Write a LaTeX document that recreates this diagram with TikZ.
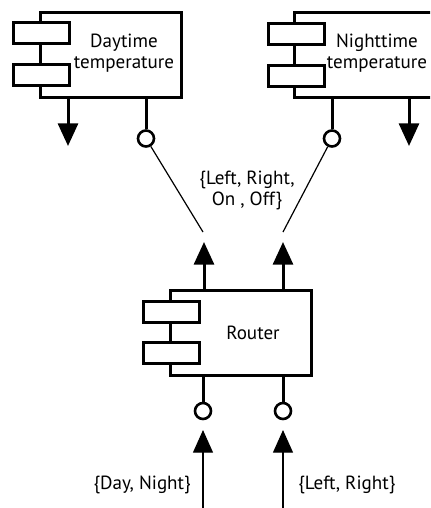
\documentclass[tikz,border=0pt]{standalone}
\usepackage{fontspec}
\setmainfont{PT Sans}
\usetikzlibrary{arrows.meta,positioning}
\newdimen\pxu
\pxu=0.75pt

\begin{document}
\begin{tikzpicture}[
    x=0.75pt, y=-0.75pt,
    comp/.style={draw, line width=3\pxu, minimum width=141\pxu, minimum height=85\pxu, fill=white},
    port/.style={draw, line width=3\pxu, minimum width=56\pxu, minimum height=21\pxu, inner sep=0pt, fill=white},
    ball/.style={draw, circle, line width=2.6\pxu, minimum size=16\pxu, inner sep=0pt, fill=white},
    lbl/.style={font=\fontsize{14.3}{15.8}\selectfont, align=center, inner sep=0pt},
    flow/.style={line width=3\pxu, -{Triangle[length=17pt, width=15pt]}},
    feed/.style={line width=1.2\pxu, -{Triangle[length=17pt, width=15pt]}},
    wire/.style={line width=1.2\pxu}
]
\useasboundingbox (0,0) rectangle (430,508);
\clip (0,0) rectangle (430,508);

% Daytime temperature
\node[comp] (dbox) at (111,54.5) {};
\node[port] (dport1) at (41,32.5) {};
\node[port] (dport2) at (41,74.5) {};
\node[lbl] (dtext) at (124,53) {Daytime\\temperature};

% Nighttime temperature
\node[comp] (nbox) at (364.5,55) {};
\node[port] (nport1) at (296,33.5) {};
\node[port] (nport2) at (296,75.5) {};
\node[lbl] (ntext) at (377,53) {Nighttime\\temperature};

% Router
\node[comp] (rbox) at (240.5,333) {};
\node[port] (rport1) at (171,312) {};
\node[port] (rport2) at (171,352.5) {};
\node[lbl] (rtext) at (253,333) {Router};

% provided and required interfaces
\coordinate (dout) at (68,146);
\draw[flow] (dbox.south -| dout) -- (dout);
\node[ball] (dball) at (146,138.5) {};
\draw[line width=3\pxu] (dbox.south -| dball) -- (dball.north);

\coordinate (nout) at (409,146);
\draw[flow] (nbox.south -| nout) -- (nout);
\node[ball] (nball) at (332,138.5) {};
\draw[line width=3\pxu] (nbox.south -| nball) -- (nball.north);

\coordinate (rup1) at (204,242);
\coordinate (rup2) at (283,242);
\draw[flow] (rbox.north -| rup1) -- (rup1);
\draw[flow] (rbox.north -| rup2) -- (rup2);

\node[ball] (rball1) at (203,411) {};
\node[ball] (rball2) at (283,411) {};
\draw[line width=3\pxu] (rbox.south -| rball1) -- (rball1.north);
\draw[line width=3\pxu] (rbox.south -| rball2) -- (rball2.north);

% connections
\coordinate (dgap) at (203,232);
\coordinate (ngap) at (283,232);
\draw[wire] (dball) -- (dgap);
\draw[wire] (nball) -- (ngap);

\coordinate (rin1) at (203,430);
\coordinate (rin2) at (283,430);
\coordinate (rsrc1) at (203,512);
\coordinate (rsrc2) at (283,512);
\draw[feed] (rsrc1) -- (rin1);
\draw[feed] (rsrc2) -- (rin2);

% labels
\node[lbl] (lset) at (247,190) {\{Left, Right,\\On , Off\}};
\node[lbl, anchor=east] (lday) at (191,485) {\{Day, Night\}};
\node[lbl, anchor=west] (lside) at (298,485) {\{Left, Right\}};
\end{tikzpicture}
\end{document}
